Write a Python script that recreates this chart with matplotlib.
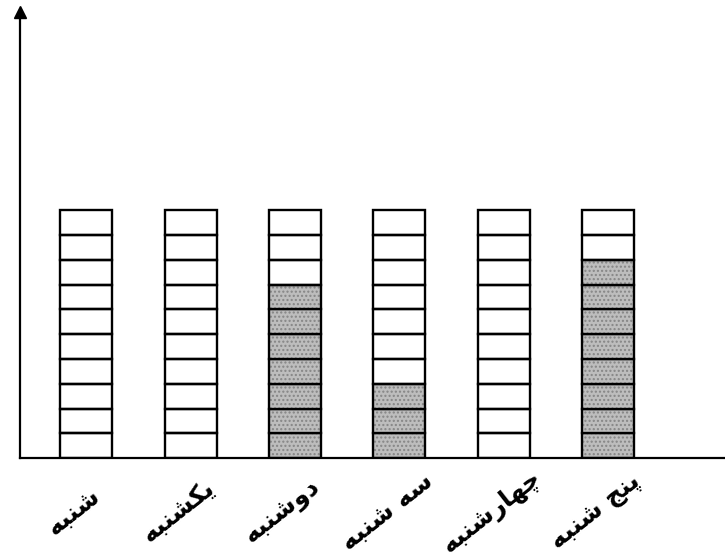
import matplotlib
matplotlib.use("Agg")
import matplotlib.pyplot as plt

# days of week (logical order) and how many of the 10 cells are shaded
days = ["شنبه", "یکشنبه", "دوشنبه", "سه شنبه", "چهارشنبه", "پنج شنبه"]
shaded = [0, 0, 7, 3, 0, 8]
cells = 10

# matplotlib has no arabic shaping, so the labels are written with
# presentation forms, already in visual (left to right) order
labels = [
    "\uFEEA\uFE92\uFEE8\uFEB7",
    "\uFEEA\uFE92\uFEE8\uFEB8\uFB91\uFEF3",
    "\uFEEA\uFE92\uFEE8\uFEB7\uFEED\uFEA9",
    "\uFEEA\uFE92\uFEE8\uFEB7 \uFEEA\uFEB3",
    "\uFEEA\uFE92\uFEE8\uFEB7\uFEAD\uFE8E\uFEEC\uFB7C",
    "\uFEEA\uFE92\uFEE8\uFEB7 \uFE9E\uFEE8\uFB58",
]

fig = plt.figure(figsize=(7.25, 5.6), dpi=100)
ax = fig.add_axes([0.028, 0.182, 0.972, 0.796])

for i in range(len(days)):
    for level in range(cells):
        if level < shaded[i]:
            ax.bar(i, 1, bottom=level, width=0.5, color="#bdbdbd",
                   hatch="....", edgecolor="#858585", linewidth=0)
        ax.bar(i, 1, bottom=level, width=0.5, facecolor="none",
               edgecolor="black", linewidth=1.7)
    ax.text(i - 0.12, -2.15, labels[i], rotation=38, ha="center", va="center",
            rotation_mode="anchor", fontsize=18, fontweight="bold",
            family=["DejaVu Sans", "Noto Sans"], clip_on=False)

ax.set_xlim(-0.632, 6.12)
ax.set_ylim(0, 18)
ax.spines["top"].set_visible(False)
ax.spines["right"].set_visible(False)
ax.spines["left"].set_linewidth(1.6)
ax.spines["bottom"].set_linewidth(1.6)
ax.set_xticks([])
ax.set_yticks([])
# arrow head on the y axis
ax.plot(0, 1, marker="^", markersize=9, color="black",
        transform=ax.transAxes, clip_on=False)

fig.savefig("out.png", dpi=100)
